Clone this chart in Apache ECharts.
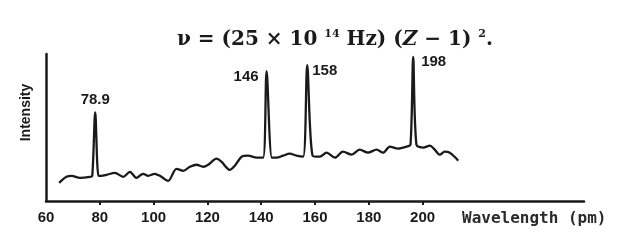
<!DOCTYPE html>
<html><head><meta charset="utf-8">
<script src="https://cdn.jsdelivr.net/npm/echarts@6/dist/echarts.min.js"></script>
<style>html,body{margin:0;padding:0;background:#fff}#c{width:629px;height:243px}</style>
</head><body><div id="c"></div>
<script>
const wavelength = [64.9, 67.6, 69.5, 72.6, 76.3, 77.2, 78.3, 79.5, 80.5, 82.5, 85.6, 88.7, 91.2, 93.6, 96.1, 98.0, 100.4, 102.3, 105.4, 108.5, 111.0, 113.5, 116.0, 118.4, 120.3, 123.4, 125.2, 128.3, 130.2, 132.7, 135.1, 138.3, 140.7, 142.0, 144.0, 145.7, 148.1, 150.6, 153.1, 155.6, 157.1, 159.1, 161.8, 164.3, 167.4, 170.4, 173.6, 176.6, 179.7, 182.9, 185.3, 187.8, 190.9, 194.0, 195.5, 196.5, 197.7, 200.2, 202.7, 204.5, 206.4, 208.2, 210.1, 212.6, 213.2];
const intensity = [18, 24, 25, 23, 24, 25, 88, 25, 25, 26, 28, 24, 29, 23, 27, 25, 27, 25, 20, 32, 30, 34, 36, 34, 36, 42, 39, 31, 35, 44, 45, 43, 43, 129, 43, 43, 45, 47, 45, 44, 135, 45, 44, 48, 43, 49, 46, 51, 48, 51, 48, 54, 52, 54, 56, 143, 56, 53, 55, 51, 46, 49, 48, 42, 40];
const peakWavelength = [78.3, 142.0, 157.1, 196.5];
const peakIntensity = [88, 129, 135, 143];
const peakLabels = ['78.9', '146', '158', '198'];
const xTickLabels = [60, 80, 100, 120, 140, 160, 180, 200];
const xTickMarks = [80, 100, 120, 140, 160, 180, 200];

const peakLabelStyle = [
  {position: 'top', distance: 5, offset: [0, 0]},
  {position: 'left', distance: 8, offset: [0, 6]},
  {position: 'right', distance: 5, offset: [0, 6]},
  {position: 'right', distance: 8, offset: [0, 5]}
];

const chart = echarts.init(document.getElementById('c'), null, {renderer: 'canvas'});
const ink = '#1a1a1a';
const textFont = {fontFamily: 'Liberation Sans', fontWeight: 'bold', fontSize: 15, color: ink};
chart.setOption({
  animation: false,
  backgroundColor: '#fff',
  title: {
    text: 'ν = (25 × 10 {s|14} Hz) ({i|Z} − 1) {s|2}.',
    left: 172, top: 24,
    textStyle: {
      fontFamily: 'DejaVu Serif', fontWeight: 'bold', fontSize: 20, color: ink,
      rich: {
        s: {fontFamily: 'DejaVu Serif', fontWeight: 'bold', fontSize: 11, color: ink, verticalAlign: 'top', padding: [0, 0, 10, 0]},
        i: {fontFamily: 'DejaVu Serif', fontWeight: 'bold', fontStyle: 'italic', fontSize: 20, color: ink}
      }
    }
  },
  grid: {left: 46, right: 45, top: 54, bottom: 42, containLabel: false},
  xAxis: {
    type: 'value', min: 60, max: 260, interval: 20,
    name: 'Wavelength (pm)', nameLocation: 'end', nameGap: -122,
    nameTextStyle: {fontFamily: 'DejaVu Sans Mono', fontWeight: 'bold', fontSize: 16, color: '#2a2a2a', align: 'left', verticalAlign: 'top', padding: [10, 0, 0, 0]},
    axisLine: {lineStyle: {color: ink, width: 2.5}},
    axisTick: {show: true, customValues: xTickMarks, length: 4, lineStyle: {color: ink, width: 2}},
    axisLabel: Object.assign({customValues: xTickLabels, margin: 9}, textFont),
    splitLine: {show: false}
  },
  yAxis: {
    type: 'value', min: 0, max: 146,
    name: 'Intensity', nameLocation: 'middle', nameGap: 13, nameRotate: 90,
    nameTextStyle: Object.assign({padding: [0, 0, 0, 30]}, textFont, {fontSize: 14}),
    axisLine: {show: true, lineStyle: {color: ink, width: 2.5}},
    axisTick: {show: false}, axisLabel: {show: false}, splitLine: {show: false}
  },
  series: [
    {
      type: 'line', data: wavelength.map((w, i) => [w, intensity[i]]),
      smooth: 0.3, symbol: 'none',
      lineStyle: {color: ink, width: 2.3}
    },
    {
      type: 'scatter', symbolSize: 0, silent: true,
      itemStyle: {opacity: 1, color: ink},
      data: peakWavelength.map((w, i) => ({
        value: [w, peakIntensity[i]],
        label: Object.assign({show: true, formatter: peakLabels[i]}, textFont, peakLabelStyle[i])
      }))
    }
  ]
});
</script></body></html>
